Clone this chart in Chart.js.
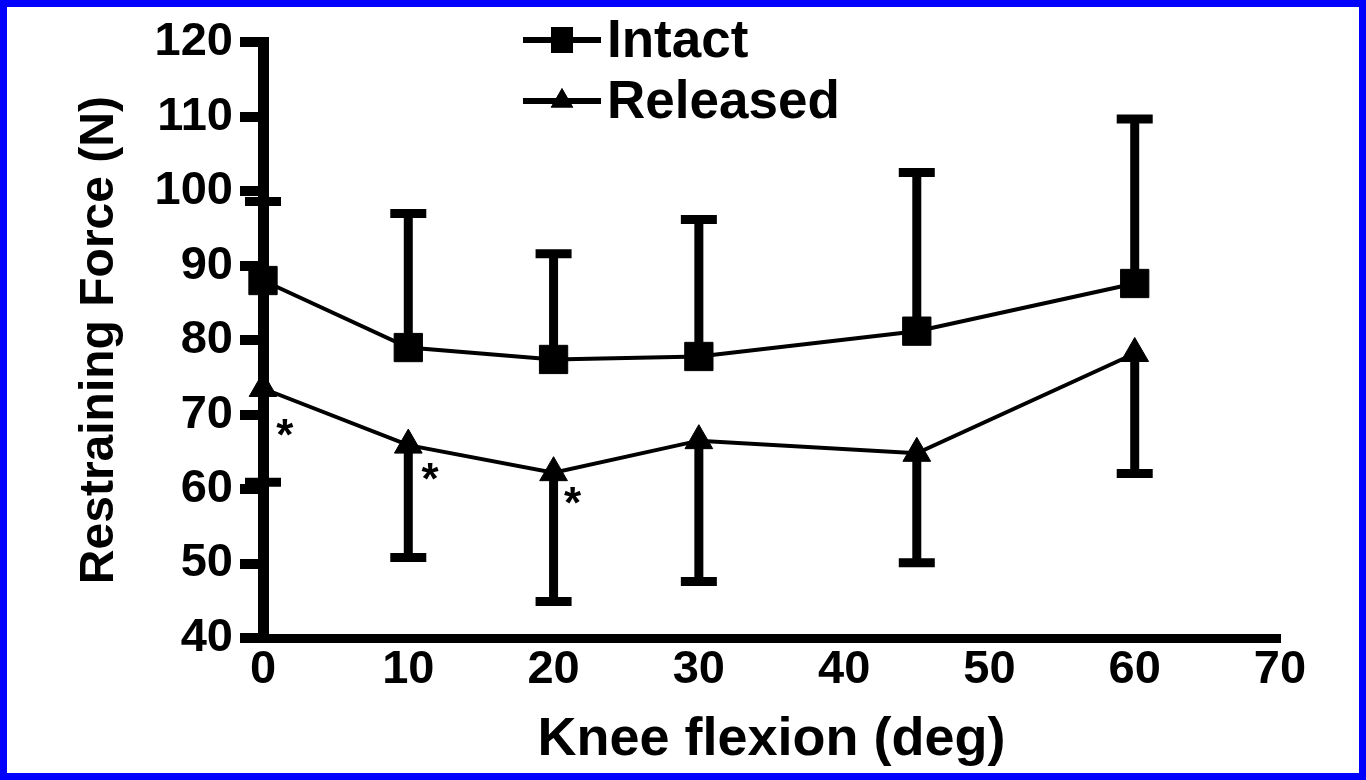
<!DOCTYPE html>
<html>
<head>
<meta charset="utf-8">
<script src="https://cdn.jsdelivr.net/npm/chart.js@4.4.1/dist/chart.umd.min.js"></script>
<style>
  html, body { margin: 0; padding: 0; background: #fff; }
  #frame { width: 1366px; height: 780px; box-sizing: border-box; border: 7px solid #0000ff; background: #fff; }
  #chart { display: block; }
</style>
</head>
<body>
<div id="frame"><canvas id="chart" width="1352" height="766"></canvas></div>
<script>
// data
const flexion = [0, 10, 20, 30, 45, 60];
const intactMean = [88, 79, 77.4, 77.8, 81.2, 87.6];
const intactUpper = [98.6, 97.0, 91.6, 96.2, 102.5, 109.7];
const releasedMean = [73.5, 65.9, 62.2, 66.5, 64.8, 78.2];
const releasedLower = [60.9, 50.8, 44.9, 47.6, 50.1, 62.1];
// significance marks (*)
const starX = [1.5, 11.5, 21.3];
const starY = [68.6, 62.7, 59.5];
const seriesNames = ['Intact', 'Released'];

const FONT = "'Liberation Sans', Arial, Helvetica, sans-serif";

const errorBars = {
  id: 'errorBars',
  afterDatasetsDraw(chart) {
    const { ctx, scales: { x, y } } = chart;
    ctx.save();
    ctx.strokeStyle = '#000';
    ctx.lineWidth = 9;
    const draw = (from, to) => {
      flexion.forEach((v, i) => {
        const px = x.getPixelForValue(v);
        const y0 = y.getPixelForValue(from[i]);
        const y1 = y.getPixelForValue(to[i]);
        ctx.beginPath();
        ctx.moveTo(px, y0);
        ctx.lineTo(px, y1);
        ctx.moveTo(px - 18, y1);
        ctx.lineTo(px + 18, y1);
        ctx.stroke();
      });
    };
    draw(intactMean, intactUpper);
    draw(releasedMean, releasedLower);

    // asterisks
    ctx.fillStyle = '#000';
    ctx.font = 'bold 44px ' + FONT;
    ctx.textAlign = 'center';
    ctx.textBaseline = 'alphabetic';
    starX.forEach((v, i) => {
      ctx.fillText('*', x.getPixelForValue(v), y.getPixelForValue(starY[i]) + 25);
    });
    ctx.restore();
  }
};

const legendBox = {
  id: 'legendBox',
  afterDraw(chart) {
    const ctx = chart.ctx;
    ctx.save();
    ctx.strokeStyle = '#000';
    ctx.fillStyle = '#000';
    ctx.lineWidth = 6;
    const rows = [33, 94];
    rows.forEach((ry, i) => {
      ctx.beginPath();
      ctx.moveTo(516, ry);
      ctx.lineTo(594, ry);
      ctx.stroke();
      if (i === 0) {
        ctx.fillRect(544, ry - 13, 22, 26);
      } else {
        Chart.helpers.drawPoint(ctx, { pointStyle: 'triangle', radius: 13, rotation: 0, borderWidth: 0 }, 555, ry);
        ctx.fill();
      }
      ctx.font = 'bold 53px ' + FONT;
      ctx.textAlign = 'left';
      ctx.textBaseline = 'middle';
      ctx.fillText(seriesNames[i], 600, ry + 2);
    });
    ctx.restore();
  }
};

const tickFont = { family: FONT, size: 47, weight: 'bold' };

new Chart(document.getElementById('chart'), {
  type: 'line',
  data: {
    datasets: [
      {
        label: seriesNames[0],
        data: flexion.map((v, i) => ({ x: v, y: intactMean[i] })),
        borderColor: '#000',
        backgroundColor: '#000',
        borderWidth: 4,
        pointStyle: 'rect',
        pointRadius: 20,
        pointBorderWidth: 1,
        clip: false
      },
      {
        label: seriesNames[1],
        data: flexion.map((v, i) => ({ x: v, y: releasedMean[i] })),
        borderColor: '#000',
        backgroundColor: '#000',
        borderWidth: 4,
        pointStyle: 'triangle',
        pointRadius: 16,
        pointBorderWidth: 1,
        clip: false
      }
    ]
  },
  options: {
    responsive: false,
    animation: false,
    layout: { padding: { top: 29, right: 79, left: 0, bottom: 0 } },
    plugins: { legend: { display: false }, tooltip: { enabled: false } },
    scales: {
      x: {
        type: 'linear',
        min: 0, max: 70,
        ticks: { stepSize: 10, color: '#000', font: tickFont, padding: 4, maxRotation: 0 },
        grid: { display: false, drawTicks: false },
        border: { display: true, color: '#000', width: 9 },
        title: {
          display: true, text: 'Knee flexion (deg)', color: '#000',
          font: { family: FONT, size: 54, weight: 'bold' },
          padding: { top: 0, bottom: 0 }
        },
        afterFit(s) { s.height = 135; }
      },
      y: {
        min: 40, max: 120,
        ticks: { stepSize: 10, color: '#000', font: tickFont, padding: 7 },
        grid: { display: true, drawOnChartArea: false, drawTicks: true, tickLength: 23, lineWidth: 10, color: '#000' },
        border: { display: true, color: '#000', width: 11 },
        title: {
          display: true, text: 'Restraining Force (N)', color: '#000',
          font: { family: FONT, size: 48, weight: 'bold' },
          padding: { top: 64, bottom: 0 }
        },
        afterFit(s) { s.width = 256; }
      }
    }
  },
  plugins: [errorBars, legendBox]
});
</script>
</body>
</html>
